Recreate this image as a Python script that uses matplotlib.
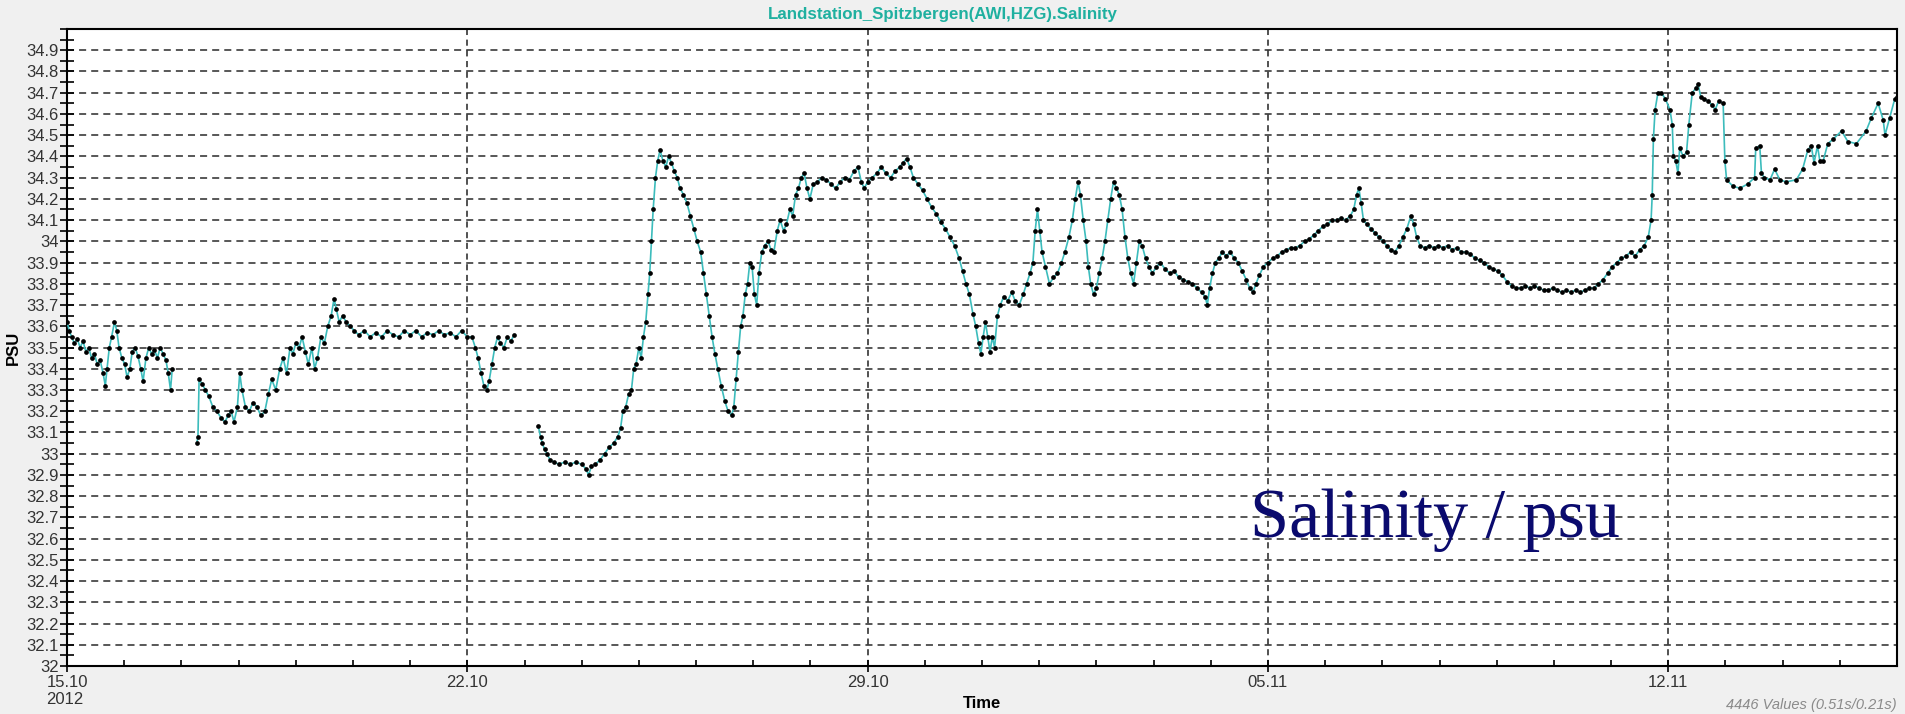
import numpy as np
import pandas as pd
import matplotlib
matplotlib.use("Agg")
import matplotlib.pyplot as plt
import matplotlib.dates as mdates
from matplotlib.ticker import MultipleLocator, FixedLocator

plt.rcParams['font.family'] = ['Liberation Sans', 'DejaVu Sans']

# salinity record, time as days since 15.10.2012 00:00 (nan = gap in the record)
days = [
    0.00, 0.04, 0.08, 0.13, 0.18, 0.23, 0.28, 0.33, 0.38, 0.43, 0.48, 0.53, 0.58, 0.63, 0.67,
    0.70, 0.74, 0.78, 0.83, 0.87, 0.91, 0.96, 1.01, 1.05, 1.10, 1.14, 1.19, 1.24, 1.29, 1.33,
    1.38, 1.43, 1.48, 1.53, 1.58, 1.63, 1.68, 1.73, 1.77, 1.81, 1.84, 2.00,
    2.27, 2.29, 2.31, 2.36, 2.42, 2.48, 2.55, 2.62, 2.69, 2.76, 2.82, 2.87, 2.92, 2.98, 3.02,
    3.06, 3.12, 3.19, 3.25, 3.32, 3.39, 3.46, 3.52, 3.58, 3.65, 3.72, 3.78, 3.84, 3.90, 3.95,
    4.00, 4.06, 4.11, 4.17, 4.22, 4.28, 4.33, 4.38, 4.44, 4.50, 4.56, 4.62, 4.67, 4.71, 4.76,
    4.82, 4.88, 4.95, 5.02, 5.10, 5.20, 5.30, 5.40, 5.50, 5.60, 5.70, 5.80, 5.90, 6.00, 6.10,
    6.20, 6.30, 6.40, 6.50, 6.60, 6.70, 6.80, 6.90, 7.00, 7.08, 7.14, 7.19, 7.24, 7.29, 7.34,
    7.38, 7.43, 7.48, 7.53, 7.58, 7.64, 7.70, 7.76, 7.82, 8.00,
    8.24, 8.28, 8.31, 8.35, 8.39, 8.45, 8.52, 8.60, 8.70, 8.80, 8.90, 9.00, 9.07, 9.12, 9.17,
    9.24, 9.32, 9.40, 9.48, 9.56, 9.63, 9.68, 9.72, 9.77, 9.82, 9.87, 9.91, 9.95, 10.00, 10.04,
    10.08, 10.12, 10.16, 10.19, 10.22, 10.25, 10.29, 10.33, 10.37, 10.42, 10.47, 10.52, 10.57,
    10.62, 10.67, 10.72, 10.78, 10.84, 10.90, 10.96, 11.02, 11.08, 11.13, 11.18, 11.23, 11.28,
    11.33, 11.38, 11.44, 11.50, 11.56, 11.62, 11.66, 11.70, 11.74, 11.78, 11.82, 11.86, 11.90,
    11.94, 11.98, 12.02, 12.06, 12.10, 12.15, 12.20, 12.26, 12.31, 12.36, 12.42, 12.47, 12.53,
    12.58, 12.64, 12.69, 12.74, 12.79, 12.84, 12.89, 12.94, 12.99, 13.05, 13.12, 13.20, 13.28,
    13.36, 13.44, 13.52, 13.60, 13.68, 13.76, 13.83, 13.89, 13.94, 14.00, 14.08, 14.16, 14.24,
    14.32, 14.40, 14.48, 14.56, 14.62, 14.68, 14.74, 14.80, 14.88, 14.96, 15.04, 15.12, 15.20,
    15.28, 15.36, 15.44, 15.52, 15.60, 15.66, 15.72, 15.78, 15.84, 15.89, 15.94, 15.98, 16.02,
    16.06, 16.10, 16.14, 16.18, 16.22, 16.27, 16.32, 16.38, 16.45, 16.52, 16.58, 16.65, 16.72,
    16.78, 16.84, 16.89, 16.93, 16.97, 17.01, 17.05, 17.11, 17.18, 17.25, 17.32, 17.39, 17.45,
    17.52, 17.58, 17.63, 17.68, 17.72, 17.77, 17.82, 17.86, 17.90, 17.95, 18.00, 18.05, 18.10,
    18.15, 18.20, 18.25, 18.30, 18.35, 18.40, 18.45, 18.50, 18.55, 18.60, 18.65, 18.70, 18.75,
    18.80, 18.86, 18.92, 18.98, 19.05, 19.12, 19.20, 19.28, 19.36, 19.44, 19.52, 19.60, 19.68,
    19.76, 19.84, 19.90, 19.94, 19.98, 20.03, 20.08, 20.14, 20.20, 20.27, 20.34, 20.41, 20.48,
    20.55, 20.62, 20.68, 20.74, 20.79, 20.85, 20.92, 21.00, 21.08, 21.16, 21.24, 21.32, 21.40,
    21.48, 21.56, 21.64, 21.72, 21.80, 21.88, 21.96, 22.04, 22.12, 22.20, 22.28, 22.36, 22.44,
    22.50, 22.55, 22.59, 22.63, 22.67, 22.73, 22.80, 22.87, 22.94, 23.01, 23.08, 23.15, 23.22,
    23.29, 23.36, 23.43, 23.50, 23.55, 23.60, 23.66, 23.74, 23.82, 23.90, 23.98, 24.06, 24.14,
    24.22, 24.30, 24.38, 24.46, 24.54, 24.62, 24.70, 24.78, 24.86, 24.94, 25.02, 25.10, 25.18,
    25.26, 25.34, 25.42, 25.50, 25.58, 25.66, 25.74, 25.82, 25.90, 25.98, 26.06, 26.14, 26.22,
    26.30, 26.38, 26.46, 26.54, 26.62, 26.70, 26.78, 26.86, 26.94, 27.02, 27.10, 27.18, 27.26,
    27.34, 27.42, 27.50, 27.58, 27.65, 27.70, 27.72, 27.74, 27.77, 27.82, 27.88, 27.95, 28.03,
    28.07, 28.09, 28.13, 28.17, 28.20, 28.26, 28.32, 28.36, 28.42, 28.48, 28.52, 28.57, 28.63,
    28.70, 28.77, 28.82, 28.88, 28.96, 28.99, 29.02, 29.13, 29.25, 29.39, 29.51, 29.53, 29.60,
    29.63, 29.68, 29.78, 29.86, 29.95, 30.06, 30.24, 30.35, 30.44, 30.50, 30.55, 30.61, 30.65,
    30.71, 30.79, 30.88, 31.03, 31.14, 31.29, 31.46, 31.55, 31.67, 31.76, 31.79, 31.87, 31.96,
    32.00,
]
salinity = [
    33.62, 33.58, 33.55, 33.52, 33.54, 33.50, 33.53, 33.48, 33.50, 33.45, 33.47, 33.42, 33.44, 33.38, 33.32,
    33.40, 33.50, 33.55, 33.62, 33.58, 33.50, 33.45, 33.42, 33.36, 33.40, 33.48, 33.50, 33.46, 33.40, 33.34,
    33.45, 33.50, 33.47, 33.49, 33.45, 33.50, 33.47, 33.44, 33.38, 33.30, 33.40, np.nan,
    33.05, 33.08, 33.35, 33.33, 33.30, 33.27, 33.22, 33.20, 33.17, 33.15, 33.18, 33.20, 33.15, 33.22, 33.38,
    33.30, 33.22, 33.20, 33.24, 33.22, 33.18, 33.20, 33.28, 33.35, 33.30, 33.40, 33.45, 33.38, 33.50, 33.47,
    33.52, 33.50, 33.55, 33.48, 33.42, 33.50, 33.40, 33.45, 33.55, 33.52, 33.60, 33.65, 33.73, 33.68, 33.62,
    33.65, 33.62, 33.60, 33.58, 33.56, 33.58, 33.55, 33.57, 33.55, 33.58, 33.56, 33.55, 33.58, 33.56, 33.58,
    33.55, 33.57, 33.56, 33.58, 33.56, 33.57, 33.55, 33.58, 33.55, 33.55, 33.50, 33.45, 33.38, 33.32, 33.30,
    33.34, 33.42, 33.50, 33.55, 33.52, 33.50, 33.55, 33.53, 33.56, np.nan,
    33.13, 33.08, 33.05, 33.02, 33.00, 32.97, 32.96, 32.95, 32.96, 32.95, 32.96, 32.95, 32.93, 32.90, 32.94,
    32.95, 32.97, 33.00, 33.03, 33.05, 33.08, 33.12, 33.20, 33.22, 33.28, 33.30, 33.40, 33.42, 33.50, 33.45,
    33.55, 33.62, 33.75, 33.85, 34.00, 34.15, 34.30, 34.38, 34.43, 34.38, 34.35, 34.40, 34.37,
    34.33, 34.30, 34.25, 34.22, 34.18, 34.12, 34.06, 34.00, 33.95, 33.85, 33.75, 33.65, 33.55,
    33.47, 33.40, 33.32, 33.25, 33.20, 33.18, 33.22, 33.35, 33.48, 33.60, 33.65, 33.75, 33.80,
    33.90, 33.88, 33.75, 33.70, 33.85, 33.95, 33.98, 34.00, 33.96, 33.95, 34.05, 34.10, 34.05,
    34.08, 34.15, 34.12, 34.22, 34.25, 34.30, 34.32, 34.25, 34.20, 34.27, 34.28, 34.30, 34.29,
    34.27, 34.25, 34.28, 34.30, 34.29, 34.33, 34.35, 34.28, 34.25, 34.28, 34.30, 34.32, 34.35,
    34.32, 34.30, 34.33, 34.35, 34.37, 34.39, 34.35, 34.30, 34.27, 34.24, 34.20, 34.16, 34.13,
    34.09, 34.06, 34.02, 33.98, 33.92, 33.86, 33.80, 33.75, 33.66, 33.60, 33.52, 33.47, 33.55,
    33.62, 33.55, 33.48, 33.55, 33.50, 33.65, 33.70, 33.74, 33.72, 33.76, 33.72, 33.70, 33.75,
    33.80, 33.85, 33.90, 34.05, 34.15, 34.05, 33.95, 33.88, 33.80, 33.83, 33.85, 33.90, 33.95,
    34.02, 34.10, 34.20, 34.28, 34.22, 34.10, 34.00, 33.88, 33.80, 33.75, 33.78, 33.85, 33.92,
    34.00, 34.10, 34.20, 34.28, 34.25, 34.22, 34.15, 34.02, 33.92, 33.85, 33.80, 33.90, 34.00,
    33.98, 33.92, 33.88, 33.85, 33.88, 33.90, 33.87, 33.85, 33.86, 33.83, 33.82, 33.81, 33.80,
    33.78, 33.76, 33.74, 33.70, 33.78, 33.85, 33.90, 33.92, 33.95, 33.93, 33.95, 33.92, 33.90,
    33.86, 33.82, 33.78, 33.76, 33.80, 33.84, 33.88, 33.90, 33.92, 33.93, 33.95, 33.96, 33.97,
    33.97, 33.98, 34.00, 34.01, 34.03, 34.05, 34.07, 34.08, 34.10, 34.10, 34.11, 34.10, 34.12,
    34.15, 34.22, 34.25, 34.18, 34.10, 34.08, 34.06, 34.04, 34.02, 34.00, 33.98, 33.96, 33.95,
    33.98, 34.02, 34.06, 34.12, 34.08, 34.02, 33.98, 33.97, 33.98, 33.97, 33.98, 33.97, 33.98,
    33.96, 33.97, 33.95, 33.95, 33.94, 33.92, 33.91, 33.90, 33.88, 33.87, 33.86, 33.84, 33.81,
    33.79, 33.78, 33.78, 33.79, 33.78, 33.79, 33.78, 33.77, 33.77, 33.78, 33.77, 33.76, 33.77,
    33.76, 33.77, 33.76, 33.77, 33.78, 33.78, 33.80, 33.82, 33.85, 33.88, 33.90, 33.92, 33.93,
    33.95, 33.93, 33.96, 33.98, 34.02, 34.10, 34.22, 34.48, 34.62, 34.70, 34.70, 34.67, 34.62,
    34.55, 34.40, 34.38, 34.32, 34.44, 34.40, 34.42, 34.55, 34.70, 34.72, 34.74, 34.68, 34.67,
    34.66, 34.64, 34.62, 34.66, 34.65, 34.38, 34.29, 34.26, 34.25, 34.27, 34.30, 34.44, 34.45,
    34.32, 34.30, 34.29, 34.34, 34.29, 34.28, 34.29, 34.34, 34.43, 34.45, 34.37, 34.45, 34.38,
    34.38, 34.46, 34.48, 34.52, 34.47, 34.46, 34.52, 34.58, 34.65, 34.57, 34.50, 34.58, 34.67,
    34.68,
]

start = pd.Timestamp("2012-10-15")
end = pd.Timestamp("2012-11-16")
week_ticks = ["2012-10-15", "2012-10-22", "2012-10-29", "2012-11-05", "2012-11-12"]
week_labels = ["15.10\n2012", "22.10", "29.10", "05.11", "12.11"]
y_labels = ["32", "32.1", "32.2", "32.3", "32.4", "32.5", "32.6", "32.7", "32.8", "32.9",
            "33", "33.1", "33.2", "33.3", "33.4", "33.5", "33.6", "33.7", "33.8", "33.9",
            "34", "34.1", "34.2", "34.3", "34.4", "34.5", "34.6", "34.7", "34.8", "34.9"]

t = start + pd.to_timedelta(np.array(days), unit="D")
sal = np.array(salinity)

W, H = 1905, 714
fig = plt.figure(figsize=(W / 100, H / 100), dpi=100, facecolor="#f0f0f0")
ax = fig.add_axes([67 / W, 1 - 666 / H, (1897 - 67) / W, (666 - 29) / H])
ax.set_facecolor("white")

ax.plot(t, sal, color="#3cbcbc", lw=1.2, marker="o", ms=3.4,
        mfc="black", mec="black", mew=0, zorder=3)

ax.set_xlim(start, end)
ax.set_ylim(32, 35)

# axes ticks
yvals = [float(v) for v in y_labels]
ax.yaxis.set_major_locator(FixedLocator(yvals))
ax.set_yticklabels(y_labels)
ax.yaxis.set_minor_locator(MultipleLocator(0.05))
xt = [mdates.date2num(pd.Timestamp(d)) for d in week_ticks]
ax.xaxis.set_major_locator(FixedLocator(xt))
ax.set_xticklabels(week_labels)
ax.xaxis.set_minor_locator(mdates.DayLocator())

ax.tick_params(axis="y", which="both", direction="inout", length=10, width=1.2,
               pad=1, labelsize=12, labelcolor="#333333")
ax.tick_params(axis="x", which="major", direction="inout", length=9, width=1.2,
               pad=2, labelsize=12, labelcolor="#333333")
ax.tick_params(axis="x", which="minor", direction="in", length=4, width=1.2)
ax.get_xticklabels()[0].set_multialignment("left")

for s in ax.spines.values():
    s.set_linewidth(1.5)
    s.set_color("black")

# dashed grid
for v in yvals[1:]:
    ax.axhline(v, color="#4a4a4a", lw=1.3, ls=(0, (3.9, 2.8)), zorder=1)
for v in xt[1:]:
    ax.axvline(v, color="#222222", lw=1.1, ls=(0, (4, 3)), zorder=1)

ax.set_ylabel("PSU", fontsize=12, fontweight="bold")
ax.yaxis.label.set_va("center")
ax.yaxis.set_label_coords(-(67 - 13) / (1897 - 67), 0.5)
fig.text(982 / W, 1 - 703 / H, "Time", ha="center", va="center",
         fontsize=12, fontweight="bold")
fig.text(0.495, 1 - 15 / H, "Landstation_Spitzbergen(AWI,HZG).Salinity",
         ha="center", va="center", fontsize=12.2, fontweight="bold", color="#1fb0a0")
fig.text(1897 / W, 1 - 705 / H, "4446 Values (0.51s/0.21s)", ha="right", va="center",
         fontsize=10.5, style="italic", color="#8a8a8a")
fig.text(1250 / W, 1 - 537 / H, "Salinity / psu", ha="left", va="baseline",
         fontsize=50.5, color="#0a0a6e", family=["Liberation Serif", "DejaVu Serif"])

fig.savefig("out.png", dpi=100, facecolor=fig.get_facecolor())
